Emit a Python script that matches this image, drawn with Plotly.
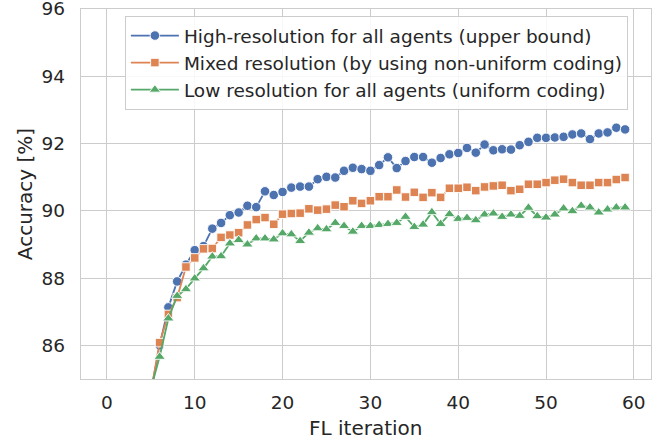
import plotly.graph_objects as go

iterations = list(range(60))

high_res = [10.0, 52.0, 70.5, 78.0, 82.0, 84.6,
            86.0, 87.13, 87.90, 88.40, 88.83, 88.95, 89.47, 89.64, 89.87, 89.95,
            90.15, 90.11, 90.58, 90.47, 90.56, 90.69, 90.72, 90.72, 90.94, 91.01,
            90.99, 91.19, 91.28, 91.24, 91.19, 91.36, 91.59, 91.27, 91.48, 91.60,
            91.60, 91.43, 91.57, 91.68, 91.72, 91.87, 91.73, 91.97, 91.80, 91.83,
            91.82, 91.95, 92.05, 92.17, 92.17, 92.18, 92.20, 92.27, 92.30, 92.13,
            92.30, 92.33, 92.47, 92.42]

mixed_res = [10.0, 50.0, 69.0, 77.5, 81.5, 84.6,
             86.08, 86.92, 87.42, 88.33, 88.60, 88.87, 88.88, 89.21, 89.28, 89.35,
             89.58, 89.74, 89.80, 89.60, 89.90, 89.92, 89.93, 90.06, 90.02, 90.05,
             90.17, 90.12, 90.30, 90.22, 90.30, 90.42, 90.42, 90.62, 90.41, 90.55,
             90.40, 90.54, 90.40, 90.67, 90.67, 90.70, 90.60, 90.71, 90.74, 90.76,
             90.60, 90.64, 90.79, 90.79, 90.84, 90.91, 90.94, 90.84, 90.76, 90.76,
             90.84, 90.84, 90.93, 90.99]

low_res = [10.0, 48.0, 68.0, 77.0, 81.0, 84.7,
           85.66, 86.80, 87.47, 87.67, 87.99, 88.29, 88.64, 88.65, 89.03, 89.13,
           89.00, 89.18, 89.18, 89.15, 89.33, 89.30, 89.10, 89.35, 89.48, 89.45,
           89.64, 89.55, 89.38, 89.55, 89.55, 89.58, 89.61, 89.64, 89.82, 89.52,
           89.59, 89.96, 89.61, 89.90, 89.76, 89.79, 89.72, 89.89, 89.92, 89.82,
           89.89, 89.85, 90.09, 89.84, 89.80, 89.89, 90.07, 89.99, 90.15, 90.10,
           89.95, 90.04, 90.10, 90.10]

series_names = [
    "High-resolution for all agents (upper bound)",
    "Mixed resolution (by using non-uniform coding)",
    "Low resolution for all agents (uniform coding)",
]
x_ticks = [0, 10, 20, 30, 40, 50, 60]
y_ticks = [86, 88, 90, 92, 94, 96]
x_title = "FL iteration"
y_title = "Accuracy [%]"

colors = ["#4C72B0", "#DD8452", "#55A868"]
symbols = ["circle", "square", "triangle-up"]
sizes = [9.5, 8.5, 10]
FONT = "DejaVu Sans"
TXT = "#262626"

fig = go.Figure()
for name, vals, c, s, sz in zip(series_names, [high_res, mixed_res, low_res], colors, symbols, sizes):
    fig.add_trace(go.Scatter(
        x=iterations, y=vals, name=name, mode="lines+markers",
        line=dict(color=c, width=1.8),
        marker=dict(symbol=s, size=sz, color=c, line=dict(color="white", width=0.9)),
    ))

axis_common = dict(
    showgrid=True, gridcolor="#cccccc", gridwidth=1,
    showline=True, linecolor="#cccccc", linewidth=1.3, mirror=True,
    ticks="", zeroline=False, automargin=False, ticklabeloverflow="allow",
    tickfont=dict(family=FONT, size=18.5, color=TXT),
)

fig.update_layout(
    width=662, height=442,
    margin=dict(l=81, r=11, t=9, b=63),
    paper_bgcolor="white", plot_bgcolor="white",
    font=dict(family=FONT, color=TXT),
    xaxis=dict(range=[-2.95, 61.95], tickvals=x_ticks, ticklabelstandoff=7, **axis_common),
    yaxis=dict(range=[85, 96.0001], tickvals=y_ticks, ticklabelstandoff=11, **axis_common),
    legend=dict(
        x=0.077, y=0.981, xanchor="left", yanchor="top",
        bgcolor="rgba(255,255,255,0.85)", bordercolor="#cccccc", borderwidth=1,
        font=dict(family=FONT, size=18.5, color=TXT),
        tracegroupgap=0, itemwidth=48,
    ),
    showlegend=True,
    annotations=[
        dict(text=x_title, xref="paper", yref="paper", x=0.5, y=-0.1324,
             xanchor="center", yanchor="middle", showarrow=False,
             font=dict(family=FONT, size=20, color=TXT)),
        dict(text=y_title, xref="paper", yref="paper", x=-0.098, y=0.5,
             xanchor="center", yanchor="middle", showarrow=False, textangle=-90,
             font=dict(family=FONT, size=20, color=TXT)),
    ],
)

fig.write_html("out.html", config={"displayModeBar": False},
               post_script="document.body.style.margin='0px';")
